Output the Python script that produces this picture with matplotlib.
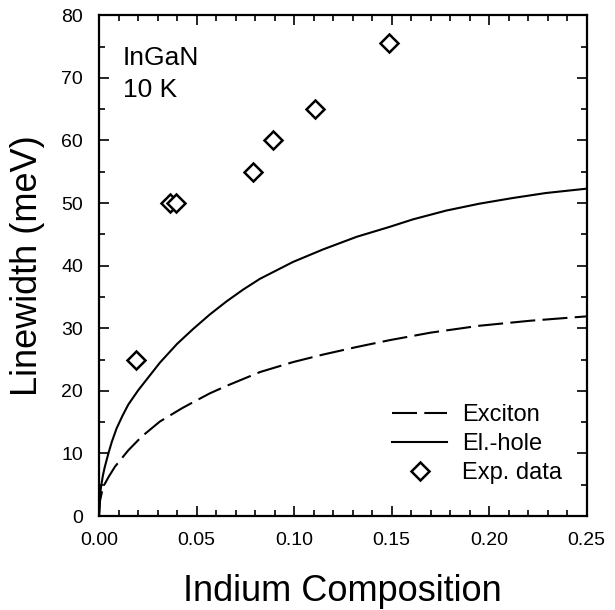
import matplotlib.pyplot as plt
from matplotlib.ticker import MultipleLocator

plt.rcParams['font.family'] = ['Liberation Sans', 'DejaVu Sans']

# ==== data ====
exp_x = [0.019, 0.0365, 0.0395, 0.079, 0.089, 0.1105, 0.1487]
exp_y = [24.9, 50.0, 50.0, 55.0, 60.0, 65.0, 75.6]

# electron-hole curve (solid)
eh_x = [0.0, 0.0005, 0.001, 0.002, 0.003, 0.0048, 0.0065, 0.009, 0.012,
        0.015, 0.0201, 0.0312, 0.040, 0.0483, 0.0568, 0.0654, 0.074,
        0.0825, 0.0995, 0.1149, 0.132, 0.149, 0.161, 0.178, 0.195,
        0.212, 0.229, 0.25]
eh_y = [0.0, 3.2, 4.6, 6.5, 7.9, 10.0, 11.8, 14.0, 16.0,
        17.8, 20.1, 24.5, 27.5, 29.9, 32.2, 34.3, 36.2,
        37.9, 40.6, 42.6, 44.6, 46.2, 47.4, 48.8, 49.9,
        50.8, 51.6, 52.3]

# exciton curve (dashed)
ex_x = [0.0, 0.0005, 0.002, 0.005, 0.0082, 0.015, 0.0219, 0.0312, 0.0424,
        0.0483, 0.0568, 0.0654, 0.0825, 0.0995, 0.1149, 0.132, 0.149,
        0.170, 0.195, 0.221, 0.25]
ex_y = [0.0, 2.4, 4.6, 6.3, 7.9, 10.5, 12.7, 15.1, 17.2,
        18.2, 19.6, 20.8, 23.0, 24.6, 25.8, 27.0, 28.1,
        29.3, 30.4, 31.2, 31.9]

fig = plt.figure(figsize=(6.15, 6.10), dpi=100)
ax = fig.add_axes([0.161, 0.154, 0.793, 0.821])

ax.plot(ex_x, ex_y, color="black", lw=1.5, dashes=(12, 3.5), label="Exciton")
ax.plot(eh_x, eh_y, color="black", lw=1.5, label="El.-hole")
ax.plot(exp_x, exp_y, linestyle="none", marker="D", ms=9, mfc="white",
        mec="black", mew=1.8, label="Exp. data")

ax.set_xlim(0, 0.25)
ax.set_ylim(0, 80)
ax.xaxis.set_major_locator(MultipleLocator(0.05))
ax.xaxis.set_minor_locator(MultipleLocator(0.01))
ax.yaxis.set_major_locator(MultipleLocator(10))
ax.yaxis.set_minor_locator(MultipleLocator(5))
ax.xaxis.set_major_formatter(plt.FormatStrFormatter("%.2f"))

ax.tick_params(which="both", direction="in", top=True, right=True,
               labelsize=14, width=1.2)
ax.tick_params(which="major", length=7, pad=11.5)
ax.tick_params(which="minor", length=4)
for s in ax.spines.values():
    s.set_linewidth(1.6)

ax.set_xlabel("Indium Composition", fontsize=26, labelpad=18)
ax.set_ylabel("Linewidth (meV)", fontsize=26, labelpad=12)

ax.text(0.0123, 72.0, "InGaN", fontsize=19, va="baseline", ha="left")
ax.text(0.0123, 66.9, "10 K", fontsize=19, va="baseline", ha="left")

ax.legend(loc="lower right", bbox_to_anchor=(1.014, 0.0), fontsize=17,
          frameon=False, handlelength=2.35, borderaxespad=0.95,
          labelspacing=0.3, handletextpad=0.6)

fig.savefig("out.png", dpi=100)
plt.close(fig)
